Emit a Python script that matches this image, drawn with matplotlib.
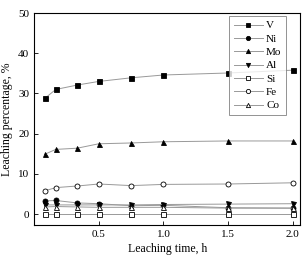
import matplotlib
matplotlib.use("Agg")
import matplotlib.pyplot as plt

plt.rcParams["font.family"] = ["Liberation Serif", "DejaVu Serif"]

time_h = [0.083, 0.167, 0.333, 0.5, 0.75, 1.0, 1.5, 2.0]
V = [28.8, 31.0, 32.1, 33.0, 33.9, 34.6, 35.1, 35.8]
Ni = [3.3, 3.4, 2.8, 2.6, 2.1, 2.2, 1.6, 1.5]
Mo = [14.9, 16.1, 16.4, 17.5, 17.7, 18.0, 18.2, 18.2]
Al = [2.3, 2.3, 2.3, 2.3, 2.3, 2.4, 2.5, 2.6]
Si = [0.0, 0.0, 0.0, 0.0, 0.0, 0.0, 0.0, 0.0]
Fe = [5.8, 6.6, 7.0, 7.5, 7.1, 7.4, 7.5, 7.8]
Co = [1.8, 1.9, 1.8, 1.7, 1.7, 1.7, 1.5, 1.5]

series = [
    ("V", V, "s", "black"),
    ("Ni", Ni, "o", "black"),
    ("Mo", Mo, "^", "black"),
    ("Al", Al, "v", "black"),
    ("Si", Si, "s", "white"),
    ("Fe", Fe, "o", "white"),
    ("Co", Co, "^", "white"),
]

fig = plt.figure(figsize=(3.02, 2.56), dpi=100)
ax = fig.add_axes([0.113, 0.121, 0.882, 0.828])

for name, y, m, fc in series:
    ax.plot(time_h, y, color="#999999", lw=0.7, marker=m, ms=3.6,
            mfc=fc, mec="black", mew=0.6, label=name)

ax.set_xlim(0, 2.06)
ax.set_ylim(-2.7, 50)
ax.set_xticks([0.5, 1.0, 1.5, 2.0])
ax.set_yticks([0, 10, 20, 30, 40, 50])
ax.tick_params(direction="in", labelsize=8, length=3, width=0.6)
for s in ax.spines.values():
    s.set_linewidth(0.8)
ax.set_xlabel("Leaching time, h", fontsize=8.5, labelpad=3)
ax.set_ylabel("Leaching percentage, %", fontsize=8.5)
leg = ax.legend(loc="upper right", bbox_to_anchor=(0.945, 0.985),
                borderaxespad=0, fontsize=8, frameon=True, fancybox=False,
                edgecolor="#777777", handlelength=2.6, labelspacing=0.32,
                handletextpad=0.3, borderpad=0.4, markerscale=0.85)
leg.get_frame().set_linewidth(0.7)

fig.savefig("out.png", dpi=100)
